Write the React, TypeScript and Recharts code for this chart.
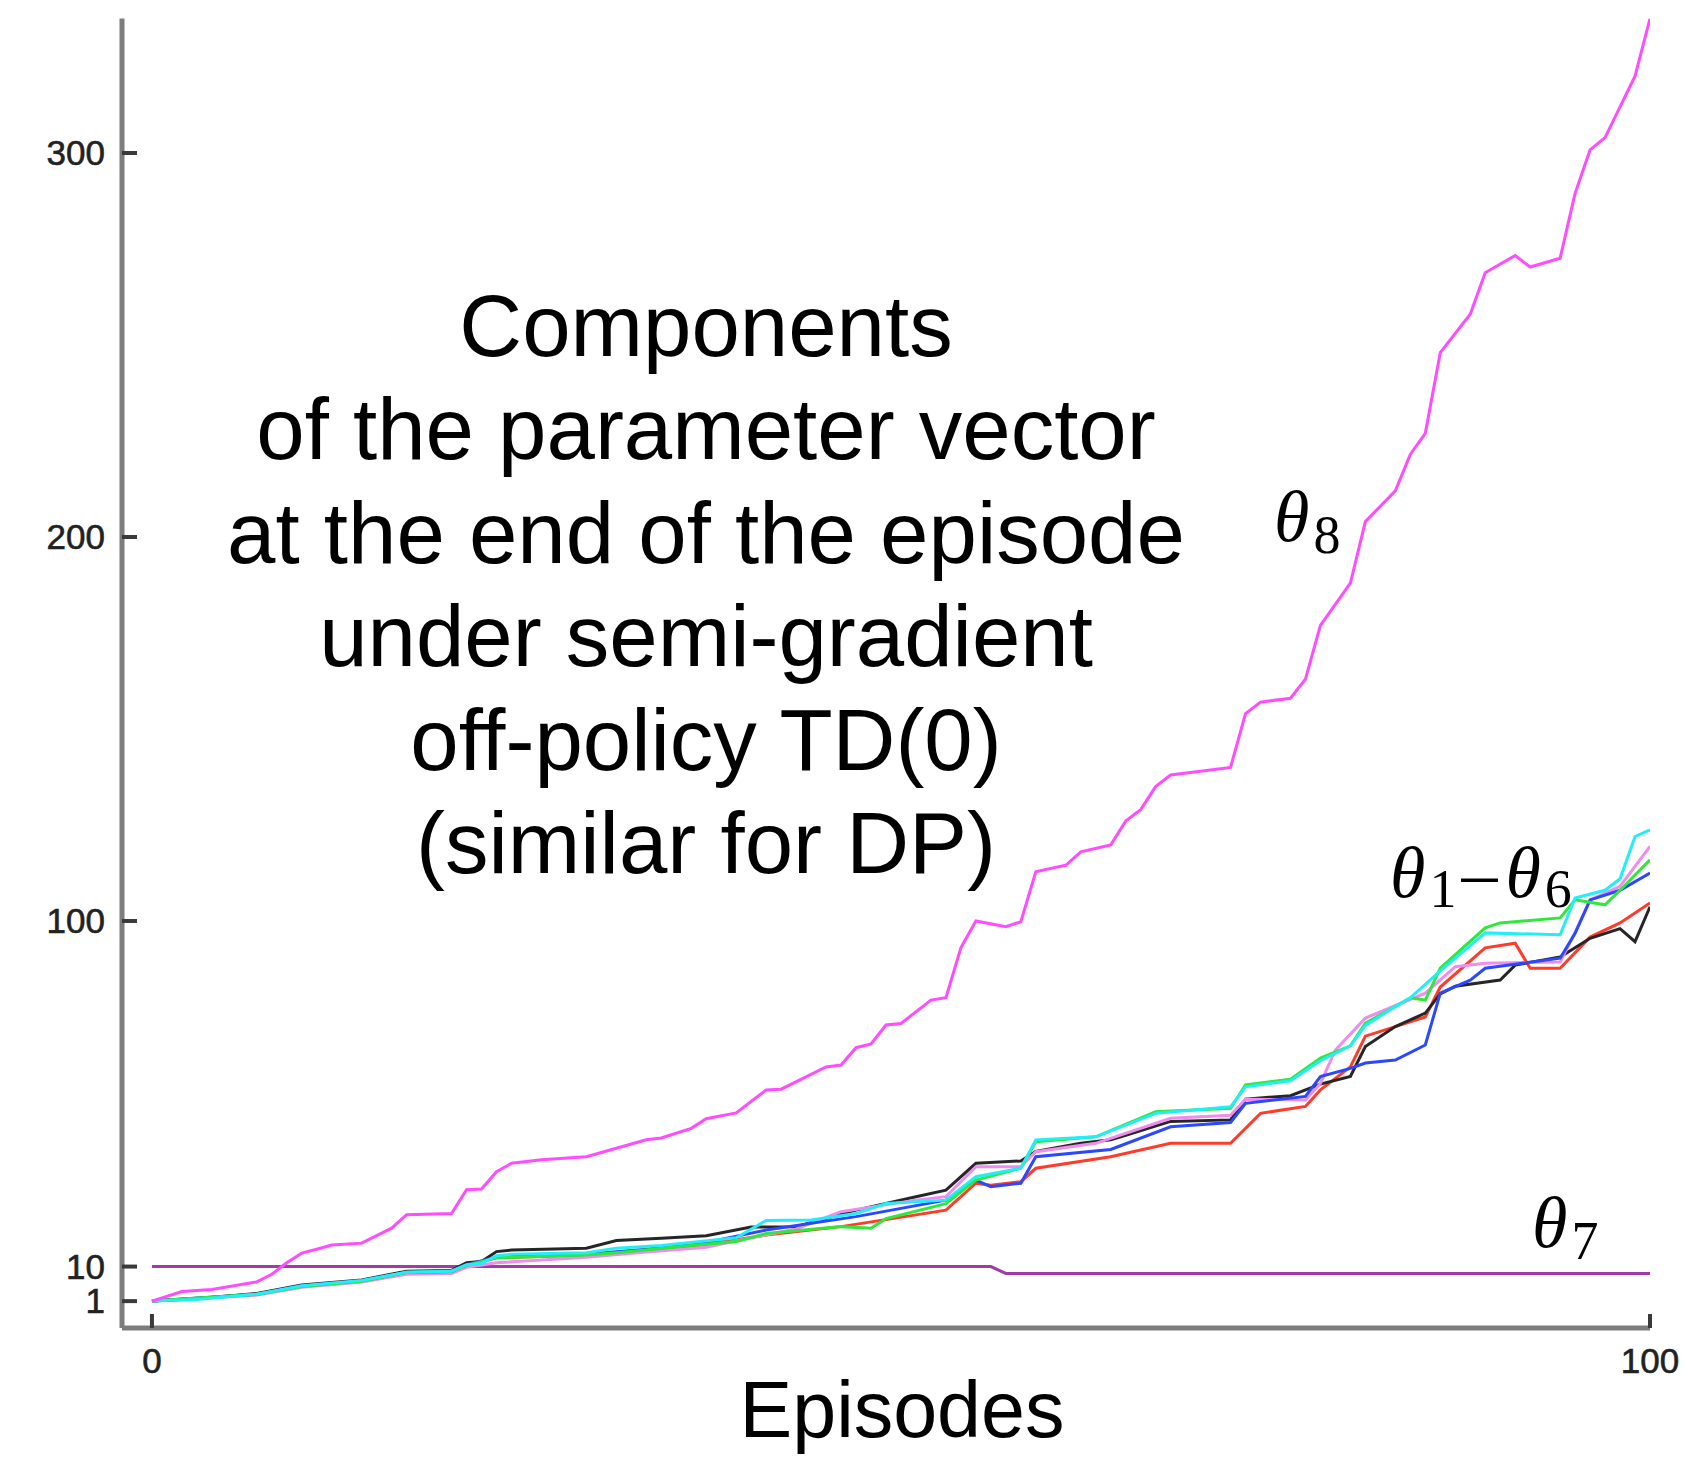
import { LineChart, Line, XAxis, YAxis } from 'recharts'

// episode / value pairs read at the kinks of each curve
const theta8Episodes = [0, 2, 4, 7, 8, 9, 10, 11, 12, 14, 16, 17, 20, 21, 22, 23, 24, 26, 29, 31, 33, 34, 36, 37, 39, 41, 42, 45, 46, 47, 48, 49, 50, 52, 53, 54, 55, 57, 58, 59, 60, 61, 62, 64, 65, 66, 67, 68, 70, 72, 73, 74, 76, 77, 78, 80, 81, 83, 84, 85, 86, 88, 89, 91, 92, 94, 95, 96, 97, 98, 99, 100]
const theta8Values = [1, 3.5, 4, 6, 8, 11, 13.5, 14.5, 15.6, 16.1, 20, 23.5, 23.8, 30, 30.2, 34.7, 36.9, 37.8, 38.6, 40.8, 43, 43.5, 46, 48.5, 50, 56, 56.2, 62, 62.5, 67, 68, 72.9, 73.3, 79.4, 80, 93, 100, 98.5, 99.8, 112.8, 113.7, 114.5, 118, 119.8, 126, 129, 135, 138, 139, 140, 154, 157, 158, 163, 177, 188, 204, 212, 221.5, 227, 248, 258, 268.8, 273.3, 270.3, 272.6, 289.5, 300.8, 304, 312, 320, 335]

const theta7Episodes = [0, 56, 57, 100]
const theta7Values = [10, 10, 8.2, 8.2]

const blackEpisodes = [0, 3, 7, 10, 14, 17, 20, 21, 22, 23, 24, 29, 31, 34, 37, 40, 43, 47, 51, 53, 55, 58, 59, 62, 64, 65, 68, 72, 73, 76, 78, 80, 81, 83, 85, 86, 87, 90, 91, 94, 96, 98, 99, 100]
const blackValues = [1, 1.6, 3, 5.2, 6.5, 8.8, 9, 11, 11.3, 13.9, 14.3, 14.8, 16.8, 17.4, 18, 20.3, 20.4, 24.7, 28.2, 29.9, 36.9, 37.5, 40, 42.1, 43, 44.2, 47.8, 48.2, 53.6, 54.5, 57.5, 59.5, 67.3, 72.5, 76, 81, 83, 84.6, 88.5, 90.6, 95.5, 98, 94.6, 103.7]

const cyanEpisodes = [0, 3, 7, 10, 14, 17, 20, 21, 22, 23, 24, 29, 31, 34, 39, 41, 44, 47, 49, 53, 55, 58, 59, 63, 67, 72, 73, 76, 78, 80, 81, 83, 84, 86, 89, 94, 95, 97, 98, 99, 100]
const cyanValues = [1, 1.4, 2.8, 5, 6.4, 8.5, 8.8, 10.5, 10.8, 12.8, 13.2, 13.6, 14.8, 15.5, 17.5, 22, 22.1, 23.8, 26.4, 27.3, 33.4, 35.6, 43, 43.8, 49.9, 51.6, 56.8, 58.4, 63.6, 67.5, 72.8, 77.7, 80, 87, 96.9, 96.4, 106, 108, 111, 122, 123.7]

const greenEpisodes = [0, 7, 10, 14, 17, 20, 21, 23, 29, 31, 36, 39, 41, 46, 48, 49, 53, 55, 58, 59, 63, 67, 72, 73, 76, 78, 80, 81, 83, 84, 85, 86, 89, 90, 94, 95, 97, 98, 100]
const greenValues = [1, 2.8, 4.8, 6.2, 8.5, 8.8, 10.3, 12.3, 13, 13.6, 15.5, 16.5, 18.6, 20.4, 20, 22.5, 26.4, 32.5, 35.6, 42.5, 43.8, 50.3, 51.2, 57.3, 58.8, 64.3, 67.5, 73.4, 77.7, 80, 79.4, 87.7, 98.2, 99.5, 100.8, 105.5, 104.2, 108, 115.9]

const violetEpisodes = [0, 7, 10, 14, 17, 20, 21, 23, 29, 33, 37, 40, 43, 46, 51, 53, 55, 58, 59, 63, 68, 72, 73, 77, 78, 79, 81, 85, 87, 89, 94, 95, 96, 98, 100]
const violetValues = [1, 2.6, 4.6, 6, 8, 8.2, 9.8, 11, 12.4, 13.8, 15, 17.5, 19.8, 24.3, 27.3, 28.2, 36, 36, 39.9, 42.1, 48.6, 49.4, 53.6, 53.4, 57.7, 66.4, 74.7, 81.2, 88.1, 89, 89.3, 97, 105.5, 109, 119.4]

const blueEpisodes = [0, 7, 10, 14, 17, 20, 21, 23, 29, 33, 37, 41, 47, 53, 55, 56, 58, 59, 64, 68, 72, 73, 77, 78, 80, 81, 83, 85, 86, 88, 89, 94, 95, 96, 98, 100]
const blueValues = [1, 2.8, 5, 6.3, 8.5, 8.7, 10.5, 12.5, 13.2, 14.5, 16.3, 19.5, 23, 27.3, 32.5, 30.8, 31.7, 38.6, 40.5, 46.4, 47.5, 52.5, 54.3, 59.5, 61.6, 63, 63.8, 67.7, 81.2, 84.6, 87.7, 90.3, 96.8, 105.5, 108, 112.5]

const redEpisodes = [0, 7, 10, 14, 17, 20, 21, 23, 29, 33, 37, 41, 46, 53, 55, 56, 58, 59, 64, 68, 72, 74, 77, 78, 80, 81, 83, 85, 86, 89, 91, 92, 94, 96, 98, 100]
const redValues = [1, 2.7, 4.8, 6.2, 8.4, 8.6, 10.3, 12.3, 13, 14.2, 15.8, 18.2, 20.4, 24.7, 31.7, 31.2, 32.1, 35.6, 38.6, 42.1, 42.1, 49.9, 51.7, 56, 62, 70, 72.5, 75, 82.8, 93, 94.2, 87.7, 87.7, 95.8, 99.5, 104.7]

const xTicks = [0, 100]
const yTicks = [1, 10, 100, 200, 300]

const titleLines = [
  'Components',
  'of the parameter vector',
  'at the end of the episode',
  'under semi-gradient',
  'off-policy TD(0)',
  '(similar for DP)',
]

type Pt = { episode: number; value: number }

const toPoints = (episodes: number[], values: number[]): Pt[] =>
  episodes.map((episode, i) => ({ episode, value: values[i] }))

const series = [
  { key: 'theta7', data: toPoints(theta7Episodes, theta7Values), color: '#a23ba8' },
  { key: 'red', data: toPoints(redEpisodes, redValues), color: '#ff3b2a' },
  { key: 'black', data: toPoints(blackEpisodes, blackValues), color: '#262626' },
  { key: 'violet', data: toPoints(violetEpisodes, violetValues), color: '#ee8cf0' },
  { key: 'blue', data: toPoints(blueEpisodes, blueValues), color: '#2a48ff' },
  { key: 'green', data: toPoints(greenEpisodes, greenValues), color: '#2ee83a' },
  { key: 'cyan', data: toPoints(cyanEpisodes, cyanValues), color: '#22eef8' },
  { key: 'theta8', data: toPoints(theta8Episodes, theta8Values), color: '#ff4cff' },
]

const W = 1691
const H = 1457
const sans = '"Liberation Sans", Arial, Helvetica, sans-serif'
const serif = '"Liberation Serif", "Times New Roman", serif'

function XTick({ x, y, payload }: any) {
  return (
    <g>
      <line x1={x} y1={y} x2={x} y2={y - 14} stroke="#3a3a3a" strokeWidth={4} />
      <text x={x} y={y + 45} textAnchor="middle" fontFamily={sans} fontSize={35} fill="#222" stroke="#222" strokeWidth={0.6}>
        {payload.value}
      </text>
    </g>
  )
}

function YTick({ x, y, payload }: any) {
  return (
    <g>
      <line x1={x} y1={y} x2={x + 15} y2={y} stroke="#3a3a3a" strokeWidth={4} />
      <text x={x - 17} y={y + 12} textAnchor="end" fontFamily={sans} fontSize={35} fill="#222" stroke="#222" strokeWidth={0.6}>
        {payload.value}
      </text>
    </g>
  )
}

function Theta({ x, y, sub }: { x: number; y: number; sub: string }) {
  return (
    <text x={x} y={y} fontFamily={serif} fontSize={72} fill="#000">
      <tspan fontStyle="italic">θ</tspan>
      <tspan fontSize={54} dx={4} dy={12}>{sub}</tspan>
    </text>
  )
}

export default function App() {
  return (
    <div style={{ position: 'absolute', left: 0, top: 0, width: W, height: H, background: '#fff' }}>
      <LineChart width={W} height={H} margin={{ top: 18.6, right: 41, bottom: 99, left: 0 }}>
        <XAxis
          type="number"
          dataKey="episode"
          domain={[-2, 100]}
          ticks={xTicks}
          interval={0}
          allowDataOverflow
          height={30}
          tickSize={0}
          tickMargin={0}
          tickLine={false}
          axisLine={{ stroke: '#7d7d7d', strokeWidth: 5 }}
          tick={<XTick />}
        />
        <YAxis
          type="number"
          dataKey="value"
          domain={[-6, 335]}
          ticks={yTicks}
          interval={0}
          allowDataOverflow
          width={122}
          tickSize={0}
          tickMargin={0}
          tickLine={false}
          axisLine={{ stroke: '#7d7d7d', strokeWidth: 5 }}
          tick={<YTick />}
        />
        {series.map((s) => (
          <Line
            key={s.key}
            data={s.data}
            dataKey="value"
            type="linear"
            stroke={s.color}
            strokeWidth={3}
            dot={false}
            activeDot={false}
            isAnimationActive={false}
          />
        ))}
      </LineChart>
      <svg width={W} height={H} style={{ position: 'absolute', left: 0, top: 0, pointerEvents: 'none' }}>
        {titleLines.map((line, i) => (
          <text key={line} x={706} y={356 + i * 103.4} textAnchor="middle" fontFamily={sans} fontSize={87} fill="#000">
            {line}
          </text>
        ))}
        <text x={902} y={1437} textAnchor="middle" fontFamily={sans} fontSize={79} fill="#000">
          Episodes
        </text>
        <Theta x={1274} y={541} sub="8" />
        <Theta x={1532} y={1247} sub="7" />
        <text x={1390} y={897} fontFamily={serif} fontSize={72} fill="#000">
          <tspan fontStyle="italic">θ</tspan>
          <tspan fontSize={54} dx={4} dy={10}>1</tspan>
          <tspan dx={5} dy={-10}>–</tspan>
          <tspan dx={8} fontStyle="italic">θ</tspan>
          <tspan fontSize={54} dx={4} dy={10}>6</tspan>
        </text>
      </svg>
    </div>
  )
}
